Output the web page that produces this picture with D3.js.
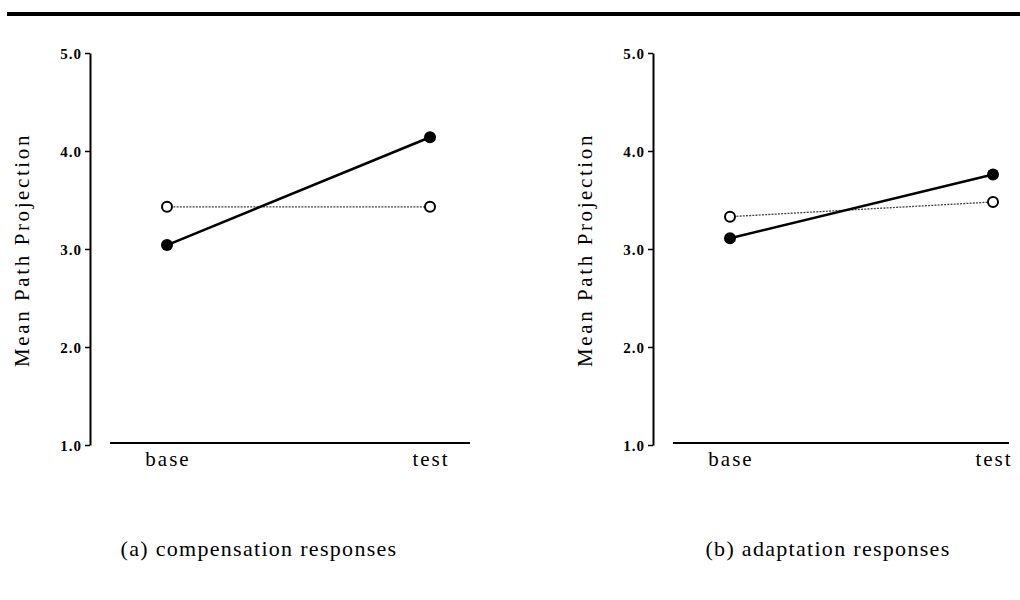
<!DOCTYPE html>
<html><head><meta charset="utf-8">
<script src="https://cdn.jsdelivr.net/npm/d3@7"></script>
<style>html,body{margin:0;padding:0;background:#fff;}</style>
</head><body>
<svg id="c" width="1020" height="600"></svg>
<script>
const conditions = ["base", "test"];
const yTicks = [1, 2, 3, 4, 5];
const panelTitles = ["(a) compensation responses", "(b) adaptation responses"];
const yLabel = "Mean Path Projection";
// filled markers / solid line
const compSolid = [3.04, 4.14];
const compDotted = [3.43, 3.43];
const adaptSolid = [3.11, 3.76];
const adaptDotted = [3.33, 3.48];

const panels = [
  {x0: 90, title: panelTitles[0], solid: compSolid, dotted: compDotted, axisEnd: 380, capX: 259, labX: 22},
  {x0: 653, title: panelTitles[1], solid: adaptSolid, dotted: adaptDotted, axisEnd: 356, capX: 828, labX: 585}
];

const svg = d3.select("#c");
const font = "Liberation Serif, Times New Roman, serif";

// top rule
svg.append("rect").attr("x", 7).attr("y", 12).attr("width", 1013).attr("height", 4).attr("fill", "#000");

const y = d3.scaleLinear().domain([1, 5]).range([445, 53]);

panels.forEach(p => {
  const g = svg.append("g").attr("transform", `translate(${p.x0},0)`);
  const x = d3.scalePoint().domain(conditions).range([77, 340]);

  const ax = g.append("g").call(d3.axisLeft(y).tickValues(yTicks).tickFormat(d3.format(".1f")).tickSize(5).tickSizeOuter(0));
  ax.attr("font-size", null).attr("font-family", null);
  ax.select(".domain").attr("stroke", "#000").attr("stroke-width", 2);
  ax.selectAll(".tick line").attr("stroke", "#000").attr("stroke-width", 1.5);
  ax.selectAll(".tick text").attr("font-family", font).style("font-size", "15px").style("font-weight", "600")
    .attr("letter-spacing", 1).attr("fill", "#000").attr("x", -8).attr("dy", "0.35em");

  // x-axis baseline
  g.append("line").attr("x1", 20).attr("x2", p.axisEnd).attr("y1", 443).attr("y2", 443)
    .attr("stroke", "#000").attr("stroke-width", 2);

  g.selectAll("text.xl").data(conditions).enter().append("text")
    .attr("class", "xl").attr("x", d => x(d) + 1).attr("y", 466)
    .attr("text-anchor", "middle").attr("font-family", font).style("font-size", "21px")
    .attr("letter-spacing", 2).text(d => d);

  // y label
  svg.append("text").attr("transform", `translate(${p.labX + 7},250) rotate(-90)`)
    .attr("text-anchor", "middle").attr("font-family", font).style("font-size", "21px")
    .attr("letter-spacing", 2.6).text(yLabel);

  const line = d3.line().x((d, i) => x(conditions[i])).y(d => y(d));
  g.append("path").attr("d", line(p.dotted)).attr("fill", "none").attr("stroke", "#444")
    .attr("stroke-width", 1.3).attr("stroke-dasharray", "2,1.2");
  g.append("path").attr("d", line(p.solid)).attr("fill", "none").attr("stroke", "#000").attr("stroke-width", 2.5);

  g.selectAll("circle.o").data(p.dotted).enter().append("circle").attr("class", "o")
    .attr("cx", (d, i) => x(conditions[i])).attr("cy", d => y(d)).attr("r", 5)
    .attr("fill", "#fff").attr("stroke", "#000").attr("stroke-width", 2);
  g.selectAll("circle.f").data(p.solid).enter().append("circle").attr("class", "f")
    .attr("cx", (d, i) => x(conditions[i])).attr("cy", d => y(d)).attr("r", 6)
    .attr("fill", "#000");

  svg.append("text").attr("x", p.capX).attr("y", 556).attr("text-anchor", "middle")
    .attr("font-family", font).style("font-size", "22px").attr("letter-spacing", 1.3).text(p.title);
});
</script>
</body></html>
